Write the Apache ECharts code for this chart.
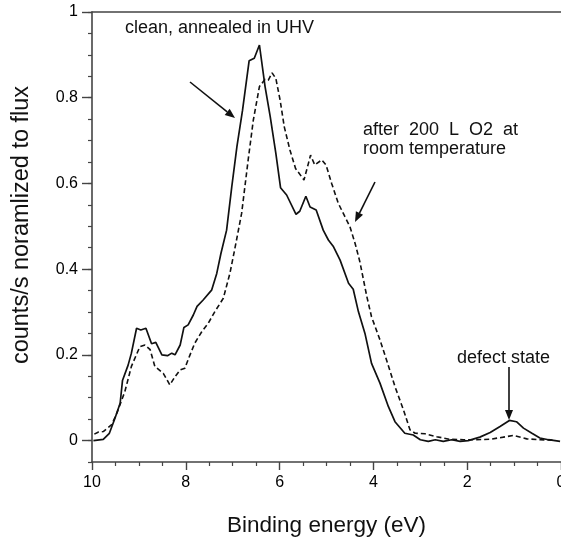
<!DOCTYPE html>
<html>
<head>
<meta charset="utf-8">
<script src="https://cdn.jsdelivr.net/npm/echarts@6/dist/echarts.min.js"></script>
<style>
	html, body { margin: 0; padding: 0; background: #fff; }
	#main { width: 561px; height: 541px; }
</style>
</head>
<body>
<div id="main"></div>
<script>
// clean surface, annealed in UHV (solid)
var cleanE = [9.97, 9.76, 9.63, 9.51, 9.40, 9.35, 9.23, 9.16, 9.05, 8.96, 8.85, 8.73, 8.64, 8.51, 8.39, 8.30, 8.23, 8.12, 8.04, 7.95,
	7.84, 7.76, 7.63, 7.45, 7.34, 7.25, 7.13, 7.02, 6.91, 6.79, 6.65, 6.54, 6.43, 6.31, 6.20, 6.08, 5.98, 5.85, 5.65, 5.57,
	5.44, 5.35, 5.22, 5.07, 4.96, 4.85, 4.71, 4.53, 4.43, 4.32, 4.18, 4.04, 3.86, 3.68, 3.54, 3.33, 3.15, 3.00, 2.83, 2.68,
	2.51, 2.33, 2.15, 1.98, 1.73, 1.51, 1.30, 1.10, 0.95, 0.80, 0.62, 0.45, 0.27, 0.02];
var cleanY = [0.000, 0.003, 0.017, 0.052, 0.087, 0.140, 0.176, 0.204, 0.262, 0.258, 0.262, 0.226, 0.229, 0.200, 0.198, 0.204, 0.200, 0.223, 0.264, 0.270,
	0.293, 0.313, 0.328, 0.351, 0.390, 0.437, 0.491, 0.592, 0.686, 0.771, 0.886, 0.892, 0.923, 0.826, 0.756, 0.670, 0.590, 0.573, 0.528, 0.535,
	0.570, 0.545, 0.538, 0.491, 0.468, 0.452, 0.421, 0.367, 0.353, 0.301, 0.250, 0.180, 0.134, 0.079, 0.044, 0.017, 0.013, 0.002, -0.002, 0.002,
	-0.002, 0.002, -0.002, 0.000, 0.008, 0.019, 0.033, 0.047, 0.044, 0.029, 0.017, 0.006, 0.002, -0.002];

// after 200 L O2 at room temperature (dashed)
var oxE = [9.95, 9.86, 9.76, 9.58, 9.47, 9.30, 9.16, 8.98, 8.87, 8.76, 8.66, 8.48, 8.34, 8.23, 8.12, 8.02, 7.91, 7.81, 7.66, 7.52,
	7.38, 7.20, 7.06, 6.95, 6.81, 6.67, 6.56, 6.43, 6.31, 6.24, 6.16, 6.08, 5.99, 5.90, 5.78, 5.66, 5.48, 5.39, 5.34, 5.25,
	5.10, 5.01, 4.89, 4.75, 4.61, 4.50, 4.39, 4.29, 4.14, 4.04, 3.86, 3.72, 3.54, 3.36, 3.22, 3.11, 2.90, 2.65, 2.37, 2.08,
	1.80, 1.51, 1.23, 1.02, 0.73, 0.45, 0.16];
var oxY = [0.015, 0.020, 0.021, 0.037, 0.064, 0.114, 0.173, 0.219, 0.223, 0.212, 0.173, 0.157, 0.130, 0.149, 0.165, 0.169, 0.200, 0.227, 0.254, 0.274,
	0.301, 0.332, 0.390, 0.450, 0.530, 0.655, 0.748, 0.826, 0.843, 0.841, 0.858, 0.845, 0.795, 0.732, 0.678, 0.635, 0.608, 0.645, 0.666, 0.643,
	0.655, 0.643, 0.600, 0.554, 0.523, 0.499, 0.460, 0.418, 0.336, 0.289, 0.235, 0.188, 0.126, 0.072, 0.025, 0.017, 0.016, 0.009, 0.003, 0.002,
	0.002, 0.003, 0.008, 0.012, 0.004, 0.002, 0.001];

var yMajor = [0, 0.2, 0.4, 0.6, 0.8, 1];

var FONT = '"Liberation Sans", Arial, Helvetica, sans-serif';
var INK = '#111';
var AXIS = '#444';

function pairs(xs, ys){
	var out = [];
	for(var i = 0; i < xs.length; i++){
		out.push([xs[i], ys[i]]);
	}
	return out;
}

// 箭头：线段 + 三角形
function arrow(x1, y1, x2, y2){
	var a = Math.atan2(y2 - y1, x2 - x1), L = 10, W = 4;
	var bx = x2 - L * Math.cos(a), by = y2 - L * Math.sin(a);
	return [{
		type: 'line',
		shape: {x1: x1, y1: y1, x2: bx, y2: by},
		style: {stroke: INK, lineWidth: 1.6}
	}, {
		type: 'polygon',
		shape: {points: [[x2, y2], [bx + W * Math.sin(a), by - W * Math.cos(a)], [bx - W * Math.sin(a), by + W * Math.cos(a)]]},
		style: {fill: INK}
	}];
}

function label(x, y, text){
	return {
		type: 'text',
		left: x,
		top: y,
		style: {text: text, font: '18px ' + FONT, fill: INK, lineHeight: 19}
	};
}

var myChart = echarts.init(document.getElementById('main'));

var option = {
	animation: false,
	textStyle: {fontFamily: FONT},
	grid: {left: 92, right: 0, top: 12, bottom: 79, containLabel: false, outerBoundsMode: 'none'},
	xAxis: [{
		type: 'value',
		min: 0,
		max: 10,
		interval: 2,
		inverse: true,
		name: 'Binding energy (eV)',
		nameLocation: 'middle',
		nameGap: 52,
		nameTextStyle: {fontSize: 22.5, color: INK},
		axisLine: {onZero: false, lineStyle: {color: AXIS, width: 1.6}},
		axisTick: {length: 8, lineStyle: {color: AXIS, width: 1.4}},
		minorTick: {show: true, splitNumber: 4, length: 4, lineStyle: {color: AXIS, width: 1.2}},
		axisLabel: {fontSize: 16, color: '#000', margin: 13},
		splitLine: {show: false}
	}, {
		type: 'value',
		position: 'top',
		min: 0,
		max: 10,
		inverse: true,
		axisLine: {show: true, onZero: false, lineStyle: {color: AXIS, width: 1.6}},
		axisTick: {show: false},
		axisLabel: {show: false},
		splitLine: {show: false}
	}],
	yAxis: [{
		type: 'value',
		position: 'left',
		min: -0.05,
		max: 1,
		name: 'counts/s noramlized to flux',
		nameLocation: 'middle',
		nameGap: 58,
		nameTextStyle: {fontSize: 23.5, color: INK, padding: [0, 0, 0, 24]},
		axisLine: {show: true, onZero: false, lineStyle: {color: AXIS, width: 1.6}},
		axisTick: {customValues: yMajor, length: 10, lineStyle: {color: AXIS, width: 1.4}},
		axisLabel: {
			customValues: yMajor,
			fontSize: 16,
			color: '#000',
			margin: 14,
			formatter: function (v){ return String(+v.toFixed(1)); }
		},
		splitLine: {show: false}
	}, {
		type: 'value',
		position: 'left',
		offset: 0,
		min: -0.05,
		max: 1,
		interval: 0.05,
		axisLine: {show: false, onZero: false},
		axisTick: {show: true, length: 4, lineStyle: {color: AXIS, width: 1.2}},
		axisLabel: {show: false},
		splitLine: {show: false}
	}],
	series: [{
		name: 'clean, annealed in UHV',
		type: 'line',
		data: pairs(cleanE, cleanY),
		showSymbol: false,
		lineStyle: {color: INK, width: 1.7}
	}, {
		name: 'after 200 L O2 at room temperature',
		type: 'line',
		data: pairs(oxE, oxY),
		showSymbol: false,
		lineStyle: {color: INK, width: 1.6, type: [5, 3]}
	}],
	graphic: [].concat(
		label(125, 19, 'clean, annealed in UHV'),
		label(363, 121, 'after  200  L  O2  at\nroom temperature'),
		label(457, 349, 'defect state'),
		arrow(190, 82, 235, 118),
		arrow(375, 182, 355, 222),
		arrow(509, 367, 509, 420)
	)
};

myChart.setOption(option);
</script>
</body>
</html>
